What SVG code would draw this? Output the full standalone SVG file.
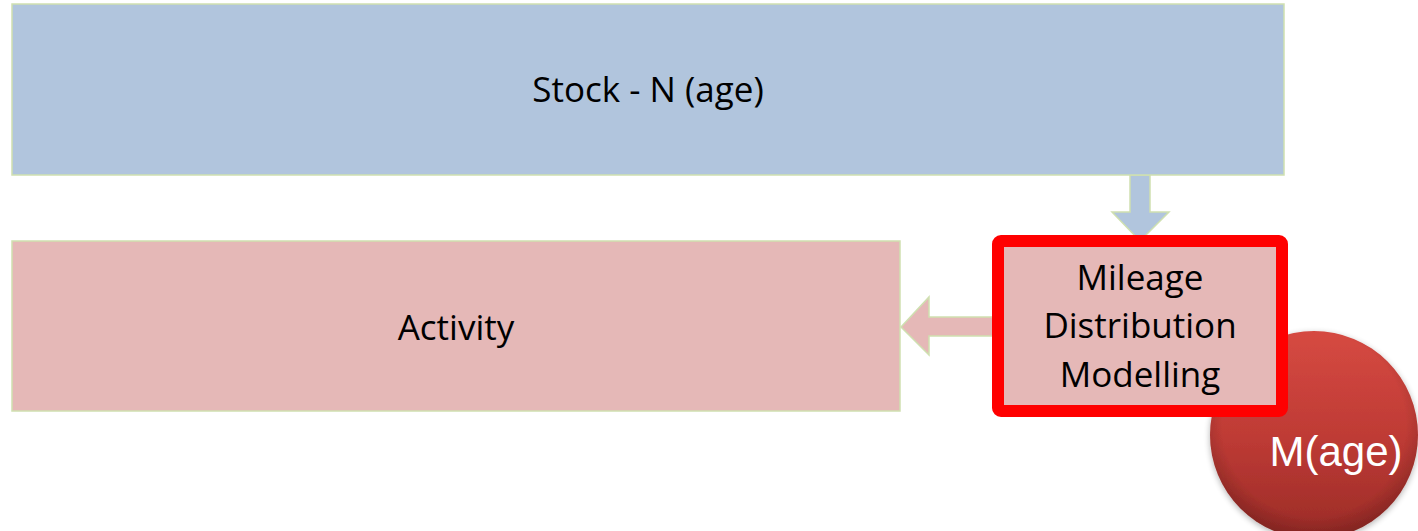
<svg xmlns="http://www.w3.org/2000/svg" width="1418" height="531" viewBox="0 0 1418 531">
  <defs>
    <linearGradient id="ballFill" x1="0" y1="0" x2="0" y2="1">
      <stop offset="0" stop-color="#d64a42"/>
      <stop offset="0.5" stop-color="#bf3b35"/>
      <stop offset="1" stop-color="#9a2b27"/>
    </linearGradient>
    <radialGradient id="ballShade" cx="50%" cy="45%" r="55%">
      <stop offset="0.8" stop-color="#000" stop-opacity="0"/>
      <stop offset="1" stop-color="#000" stop-opacity="0.18"/>
    </radialGradient>
    <filter id="soft" x="-20%" y="-20%" width="140%" height="140%">
      <feGaussianBlur in="SourceAlpha" stdDeviation="3"/>
      <feOffset dx="0" dy="2"/>
      <feComponentTransfer><feFuncA type="linear" slope="0.3"/></feComponentTransfer>
      <feMerge><feMergeNode/><feMergeNode in="SourceGraphic"/></feMerge>
    </filter>
  </defs>
  <style>
    .box { stroke: #cfe0b0; stroke-width: 1.5; }
    .blue { fill: #b1c5dd; }
    .pink { fill: #e5b8b7; }
    .lbl { font-family: "Open Sans", "Liberation Sans", sans-serif; font-size: 35px; fill: #000; text-anchor: middle; }
    .ball { font-family: "Liberation Sans", Arial, sans-serif; font-size: 42px; fill: #fff; text-anchor: middle; }
  </style>

  <!-- connectors -->
  <g id="connectors">
    <path class="box blue" d="M1130,175 L1150,175 L1150,212 L1169,212 L1140,241 L1112,212 L1130,212 Z"/>
    <path class="box pink" d="M998,317 L929,317 L929,297 L901,327 L929,355 L929,336 L998,336 Z"/>
  </g>

  <g id="stock">
    <rect class="box blue" x="12" y="4" width="1272" height="171"/>
    <text class="lbl" x="648" y="102">Stock - N (age)</text>
  </g>

  <g id="activity">
    <rect class="box pink" x="12" y="241" width="888" height="170"/>
    <text class="lbl" x="456" y="340">Activity</text>
  </g>

  <!-- ball sits behind the modelling box -->
  <g id="mage">
    <g filter="url(#soft)">
      <circle cx="1314" cy="435" r="104" fill="url(#ballFill)"/>
      <circle cx="1314" cy="435" r="104" fill="url(#ballShade)"/>
    </g>
    <text class="ball" x="1336" y="466">M(age)</text>
  </g>

  <g id="mileage">
    <rect x="998" y="241" width="284" height="170" rx="3" fill="#e5b8b7" stroke="#ff0000" stroke-width="12"/>
    <text class="lbl" x="1140" y="290">Mileage</text>
    <text class="lbl" x="1140" y="338">Distribution</text>
    <text class="lbl" x="1140" y="387">Modelling</text>
  </g>
</svg>
